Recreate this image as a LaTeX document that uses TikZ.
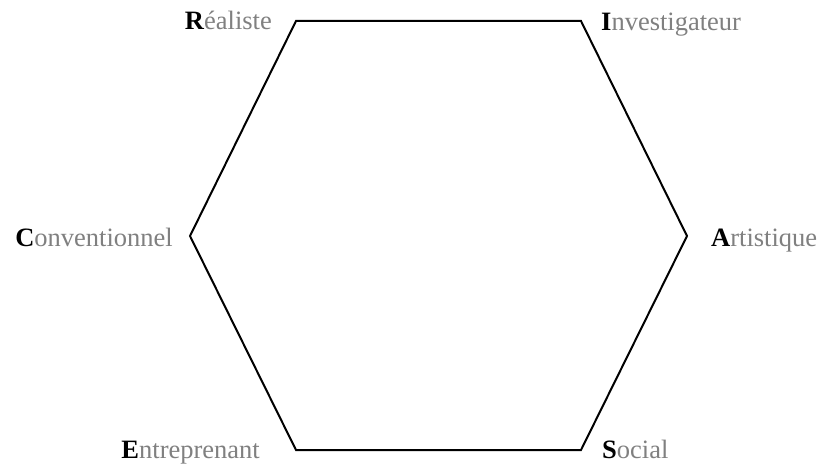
\documentclass[tikz,border=0pt]{standalone}
\usepackage{fontspec}
\setmainfont{Liberation Serif}
\definecolor{lblgray}{HTML}{808080}
\newcommand{\hlab}[2]{\textbf{\color{black}#1}\textcolor{lblgray}{#2}}
\begin{document}
\begin{tikzpicture}[x=1pt,y=-1pt,
  lbl/.style={inner sep=0pt,font=\fontsize{26.5}{30}\selectfont},
  hex/.style={draw=black,line width=2pt,line join=miter}]
\useasboundingbox (0,0) rectangle (820,465);
\coordinate (r) at (296,21);
\coordinate (i) at (581,21);
\coordinate (a) at (687,236);
\coordinate (s) at (581,450);
\coordinate (e) at (296,450);
\coordinate (c) at (190,236);
\draw[hex] (r) -- (i) -- (a) -- (s) -- (e) -- (c) -- cycle;
\node[lbl,anchor=base east] (lr) at (272,30) {\hlab{R}{éaliste}};
\node[lbl,anchor=base west] (li) at (601,31) {\hlab{I}{nvestigateur}};
\node[lbl,anchor=base] (lc) at (94,247) {\hlab{C}{onventionnel}};
\node[lbl,anchor=base west] (la) at (711,247) {\hlab{A}{rtistique}};
\node[lbl,anchor=base east] (le) at (260,458) {\hlab{E}{ntreprenant}};
\node[lbl,anchor=base west] (ls) at (602,458) {\hlab{S}{ocial}};
\end{tikzpicture}
\end{document}
